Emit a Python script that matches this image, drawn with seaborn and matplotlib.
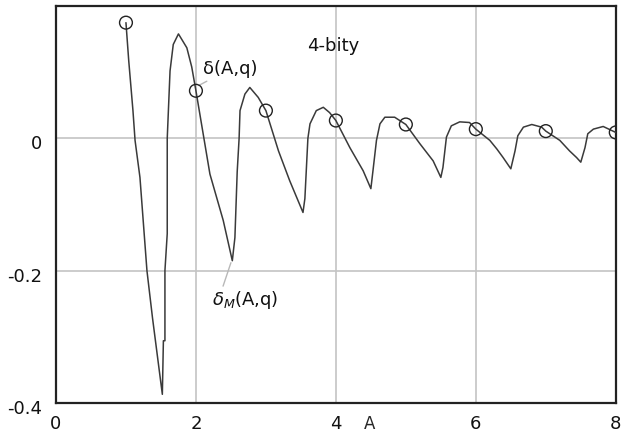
import matplotlib
matplotlib.use("Agg")
import matplotlib.pyplot as plt
import matplotlib.transforms as mtransforms
import seaborn as sns
import pandas as pd

# delta_M(A, q) curve (4-bit)
curve_A = [1.00, 1.04, 1.10, 1.13, 1.20, 1.30, 1.38, 1.47, 1.52, 1.535, 1.557, 1.557, 1.59, 1.59,
           1.63, 1.676, 1.75, 1.87, 1.94, 2.00, 2.20, 2.39, 2.52, 2.557, 2.59, 2.617, 2.63, 2.70,
           2.77, 2.89, 3.00, 3.18, 3.34, 3.53, 3.557, 3.60, 3.63, 3.72, 3.82, 3.91, 4.00, 4.20,
           4.39, 4.50, 4.53, 4.58, 4.63, 4.70, 4.84, 5.00, 5.20, 5.39, 5.50, 5.53, 5.58, 5.65,
           5.77, 5.91, 6.00, 6.20, 6.30, 6.39, 6.50, 6.56, 6.60, 6.68, 6.80, 6.94, 7.00, 7.20,
           7.34, 7.44, 7.50, 7.56, 7.60, 7.68, 7.82, 8.00]
curve_delta = [0.175, 0.117, 0.042, -0.003, -0.059, -0.200, -0.272, -0.346, -0.387, -0.306, -0.306, -0.200, -0.144, 0.000,
               0.102, 0.142, 0.158, 0.137, 0.108, 0.072, -0.054, -0.124, -0.185, -0.150, -0.050, 0.000, 0.042, 0.067,
               0.077, 0.062, 0.042, -0.019, -0.064, -0.112, -0.091, 0.000, 0.022, 0.042, 0.047, 0.039, 0.027, -0.014,
               -0.049, -0.076, -0.049, -0.003, 0.022, 0.032, 0.032, 0.021, -0.008, -0.034, -0.059, -0.044, 0.002, 0.019,
               0.025, 0.024, 0.014, -0.003, -0.016, -0.029, -0.046, -0.019, 0.004, 0.017, 0.021, 0.017, 0.011, -0.003,
               -0.019, -0.029, -0.036, -0.014, 0.007, 0.014, 0.018, 0.009]

# delta(A, q) at integer A (circles)
points_A = [1, 2, 3, 4, 5, 6, 7, 8]
points_delta = [0.175, 0.072, 0.042, 0.027, 0.021, 0.014, 0.011, 0.009]

x_ticks = [0, 2, 4, 6, 8]
y_ticks = [-0.4, -0.2, 0]
y_tick_labels = ["-0.4", "-0.2", "0"]

sns.set_style("white")
plt.rcParams["font.family"] = ["DejaVu Sans"]

fig = plt.figure(figsize=(6.22, 4.37), dpi=100)
ax = fig.add_axes([0.090, 0.078, 0.900, 0.908])

df_curve = pd.DataFrame({"A": curve_A, "delta": curve_delta})
df_pts = pd.DataFrame({"A": points_A, "delta": points_delta})

sns.lineplot(data=df_curve, x="A", y="delta", sort=False, estimator=None,
             color="#3a3a3a", linewidth=1.1, ax=ax, zorder=3)
sns.scatterplot(data=df_pts, x="A", y="delta", marker="o", s=85,
                fc="none", ec="#222222", linewidth=1.0, ax=ax, zorder=4)

ax.set_xlim(0, 8)
ax.set_ylim(-0.4, 0.2)
ax.set_xticks(x_ticks)
ax.set_xticklabels([str(v) for v in x_ticks])
ax.set_yticks(y_ticks)
ax.set_yticklabels(y_tick_labels)

for v in [2, 4, 6]:
    ax.axvline(v, color="#c4c4c4", lw=1.2, zorder=1)
for v in [0, -0.2]:
    ax.axhline(v, color="#c4c4c4", lw=1.2, zorder=1)

ax.tick_params(axis="both", length=0, labelsize=13, colors="#111111")
ax.tick_params(axis="x", pad=9)
ax.tick_params(axis="y", pad=10)
off = mtransforms.ScaledTranslation(0, -4 / 100, fig.dpi_scale_trans)
for lab in ax.get_yticklabels():
    lab.set_transform(lab.get_transform() + off)

for s in ax.spines.values():
    s.set_color("#222222")
    s.set_linewidth(1.6)

ax.set_xlabel("A", fontsize=12)
ax.xaxis.set_label_coords(0.561, -0.03)
ax.set_ylabel("")

ax.text(3.59, 0.140, "4-bity", fontsize=13, ha="left", va="center", color="#111111")
ax.annotate("δ(A,q)", xy=(2.04, 0.080), xytext=(2.1, 0.105), fontsize=13,
            ha="left", va="center", color="#111111",
            arrowprops=dict(arrowstyle="-", color="#b8b8b8", lw=1, shrinkA=0, shrinkB=0))
ax.annotate(r"$\delta_M$(A,q)", xy=(2.50, -0.188), xytext=(2.23, -0.245), fontsize=13,
            ha="left", va="center", color="#111111",
            arrowprops=dict(arrowstyle="-", color="#b8b8b8", lw=1, shrinkA=0, shrinkB=0,
                            relpos=(0.15, 1.0)))

fig.savefig("out.png", dpi=100)
